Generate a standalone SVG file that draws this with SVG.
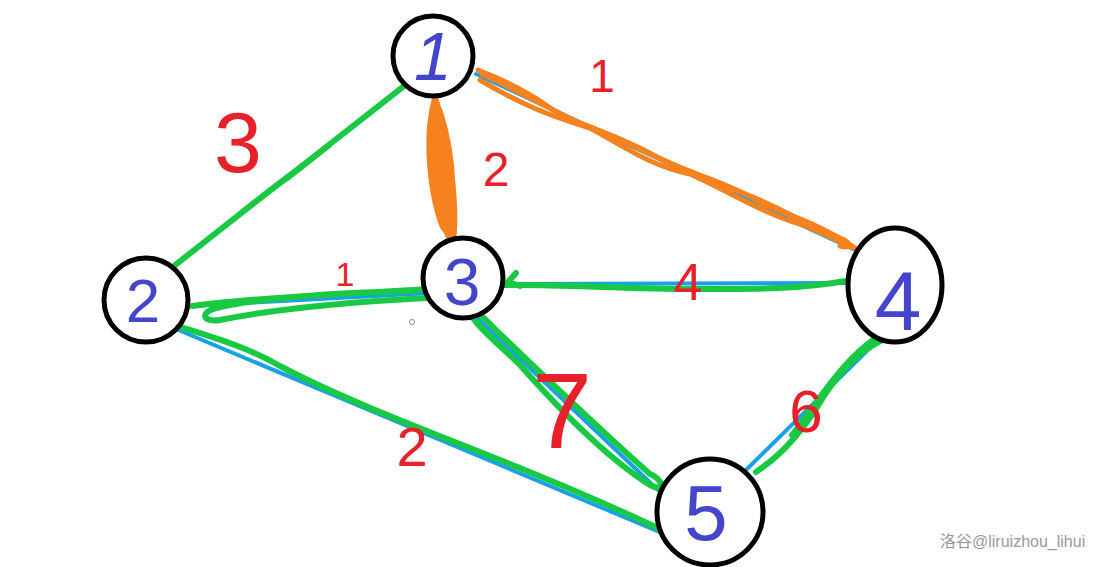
<svg xmlns="http://www.w3.org/2000/svg" width="1108" height="567" viewBox="0 0 1108 567">
<style>
.node{fill:#ffffff;stroke:#000000;stroke-width:5}
.nl{font-family:"Liberation Sans",Arial,sans-serif;fill:#4545cc;text-anchor:middle}
.el{font-family:"Liberation Sans",Arial,sans-serif;fill:#e8202a;text-anchor:middle}
.blue{fill:none;stroke:#18a0e8;stroke-width:4;stroke-linecap:round}
.green{fill:none;stroke:#19c944;stroke-width:6;stroke-linecap:round;stroke-linejoin:round}
.orange{fill:none;stroke:#f5821f;stroke-width:5;stroke-linecap:round;stroke-linejoin:round}
</style>
<rect width="1108" height="567" fill="#ffffff"/>
<g id="connectors">
  <g id="e1-2">
    <path class="blue" d="M408,84 L172,268"/>
    <path class="green" d="M404,86 L330,144 C300,168 270,190 240,214 L174,266"/>
    <path class="green" d="M328,146 C310,160 300,168 286,179" stroke-width="9"/>
  </g>
  <g id="e1-3">
    <path class="blue" d="M436,97 L453,240"/>
    <path d="M434,99 C424,130 424,185 440,228 L455,246 C459,230 458,195 452,160 C448,130 442,110 434,99 Z" fill="#f5821f"/>
    <path class="orange" d="M434,100 C424,140 428,200 452,244"/>
    <path class="orange" d="M436,100 C452,140 457,190 450,240"/>
  </g>
  <g id="e1-4">
    <path class="blue" d="M476,74 L855,250"/>
    <path class="orange" d="M478,70 C520,86 545,104 562,116 C600,130 640,146 662,160 C700,176 740,188 762,204 C800,218 830,230 858,250"/>
    <path class="orange" d="M480,80 C520,104 550,116 590,128 C620,144 650,166 690,174 C730,192 760,212 800,224 C830,236 848,246 858,250"/>
    <path class="orange" d="M482,74 C530,96 570,122 620,140 C660,158 700,178 740,192 C780,206 810,228 840,238 C852,242 850,250 840,246"/>
  </g>
  <g id="e2-3">
    <path class="blue" d="M188,306 L430,293"/>
    <path class="green" d="M192,306 C240,300 300,296 360,293 L430,289 C440,288 438,296 426,298 C350,302 270,310 220,320 C202,323 200,312 216,308 C260,298 330,293 410,291" stroke-width="7"/>
  </g>
  <g id="e3-4">
    <path class="blue" d="M505,284 L848,283"/>
    <path class="green" d="M504,285 C560,284 620,289 700,289 C760,289 800,289 846,281"/>
    <path class="green" d="M516,273 L508,282 L520,286"/>
  </g>
  <g id="e2-5">
    <path class="blue" d="M176,329 C300,380 480,455 662,533"/>
    <path class="green" d="M178,326 C215,338 245,346 280,366 C340,398 420,428 500,460 C560,484 620,510 662,530"/>
  </g>
  <g id="e3-5">
    <path class="blue" d="M477,318 L658,490"/>
    <path class="green" d="M472,316 C480,330 500,345 520,365 C560,410 610,460 650,485 C666,493 664,480 650,474 C600,430 540,372 500,334 C488,322 482,316 477,311"/>
  </g>
  <g id="e4-5">
    <path class="blue" d="M880,338 L746,470"/>
    <path class="green" d="M882,340 C862,350 842,368 824,396 C806,426 786,452 756,472"/>
    <path class="green" d="M876,338 C852,354 834,378 812,408 C800,425 795,432 792,435"/>
  </g>
</g>
<g id="edge-labels">
  <text class="el" x="238" y="172" font-size="86">3</text>
  <text class="el" x="496" y="186" font-size="48">2</text>
  <text class="el" x="602" y="92" font-size="46">1</text>
  <text class="el" x="345" y="286" font-size="34">1</text>
  <text class="el" x="688" y="300" font-size="52">4</text>
  <text class="el" x="412" y="466" font-size="56">2</text>
  <text class="el" x="562" y="448" font-size="108">7</text>
  <text class="el" x="806" y="432" font-size="60">6</text>
</g>
<circle cx="412" cy="322" r="2.5" fill="none" stroke="#8888bb" stroke-width="1"/>
<g id="node1">
  <circle class="node" cx="433" cy="56" r="40"/>
  <text class="nl" x="433" y="80" font-size="68" font-style="italic">1</text>
</g>
<g id="node2">
  <circle class="node" cx="146" cy="300" r="42"/>
  <text class="nl" x="143" y="322" font-size="62">2</text>
</g>
<g id="node3">
  <circle class="node" cx="463" cy="278" r="40"/>
  <text class="nl" x="462" y="305" font-size="66">3</text>
</g>
<g id="node4">
  <ellipse class="node" cx="895" cy="285" rx="47" ry="57"/>
  <text class="nl" x="898" y="330" font-size="84">4</text>
</g>
<g id="node5">
  <circle class="node" cx="710" cy="512" r="53"/>
  <text class="nl" x="706" y="540" font-size="78">5</text>
</g>
<text x="940" y="547" font-family="Liberation Sans,'Noto Sans CJK SC',sans-serif" font-size="16" fill="#999999">洛谷@liruizhou_lihui</text>
</svg>
